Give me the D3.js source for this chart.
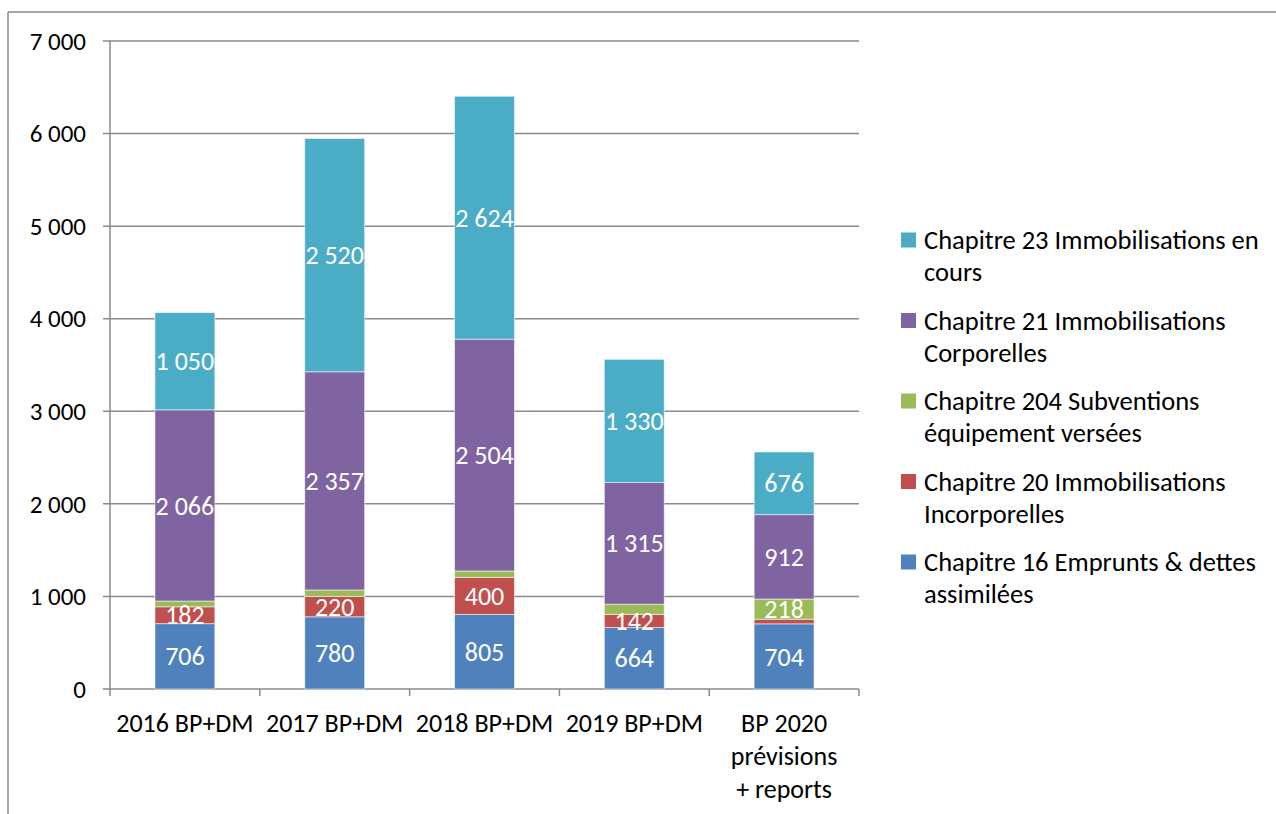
<!DOCTYPE html>
<html>
<head>
<meta charset="utf-8">
<script src="https://cdn.jsdelivr.net/npm/d3@7"></script>
<style>
  html, body { margin: 0; padding: 0; background: #fff; }
  svg { display: block; font-family: Carlito, Calibri, Lato, "Open Sans", sans-serif; }
</style>
</head>
<body>
<svg id="chart" width="1276" height="814"></svg>
<script>
// Budget categories (x axis), each label split into lines
const categories = ["2016 BP+DM", "2017 BP+DM", "2018 BP+DM", "2019 BP+DM", "BP 2020 prévisions + reports"];
const categoryLines = [["2016 BP+DM"], ["2017 BP+DM"], ["2018 BP+DM"], ["2019 BP+DM"], ["BP 2020", "prévisions", "+ reports"]];

// Series, stacked bottom to top
const seriesNames = [
  "Chapitre 16 Emprunts & dettes assimilées",
  "Chapitre 20 Immobilisations Incorporelles",
  "Chapitre 204 Subventions équipement versées",
  "Chapitre 21 Immobilisations Corporelles",
  "Chapitre 23 Immobilisations en cours"
];
const legendLines = [
  ["Chapitre 16 Emprunts & dettes", "assimilées"],
  ["Chapitre 20 Immobilisations", "Incorporelles"],
  ["Chapitre 204 Subventions", "équipement versées"],
  ["Chapitre 21 Immobilisations", "Corporelles"],
  ["Chapitre 23 Immobilisations en", "cours"]
];
const seriesColors = ["#4F81BD", "#C0504D", "#9BBB59", "#8064A2", "#4BACC6"];

const chap16  = [706, 780, 805, 664, 704];
const chap20  = [182, 220, 400, 142, 50];
const chap204 = [62, 70, 70, 110, 218];
const chap21  = [2066, 2357, 2504, 1315, 912];
const chap23  = [1050, 2520, 2624, 1330, 676];
const seriesValues = [chap16, chap20, chap204, chap21, chap23];

// Which segments carry a value label
const showLabel = [
  [true, true, true, true, true],
  [true, true, true, true, false],
  [false, false, false, false, true],
  [true, true, true, true, true],
  [true, true, true, true, true]
];

const yTicks = [0, 1000, 2000, 3000, 4000, 5000, 6000, 7000];

const fr = d3.formatLocale({ decimal: ",", thousands: " ", grouping: [3], currency: ["", " €"] });
const fmt = fr.format(",d");

const svg = d3.select("#chart");
const gridColor = "#8a8a8a";

// Outer frame
svg.append("line").attr("x1", 8).attr("x2", 1276).attr("y1", 12).attr("y2", 12)
  .attr("stroke", gridColor).attr("stroke-width", 1.5);
svg.append("line").attr("x1", 8).attr("x2", 8).attr("y1", 12).attr("y2", 814)
  .attr("stroke", gridColor).attr("stroke-width", 1.5);

const plot = { left: 110, right: 859, top: 41, bottom: 689 };

const x = d3.scaleBand().domain(categories).range([plot.left, plot.right]).paddingInner(0).paddingOuter(0);
const y = d3.scaleLinear().domain([0, 7000]).range([plot.bottom, plot.top]);

// Horizontal gridlines with left tick stubs
svg.append("g").selectAll("line").data(yTicks).join("line")
  .attr("x1", plot.left - 7).attr("x2", plot.right)
  .attr("y1", d => y(d)).attr("y2", d => y(d))
  .attr("stroke", gridColor).attr("stroke-width", 1.5);

// Y tick labels
svg.append("g").selectAll("text").data(yTicks).join("text")
  .attr("x", 86).attr("y", d => y(d)).attr("dy", "0.35em")
  .attr("text-anchor", "end").attr("font-size", 25).attr("fill", "#000")
  .text(d => fmt(d));

// Vertical axis line
svg.append("line").attr("x1", plot.left).attr("x2", plot.left)
  .attr("y1", plot.top).attr("y2", plot.bottom)
  .attr("stroke", gridColor).attr("stroke-width", 1.5);

// Category separator ticks on the x axis
const sepX = categories.map(c => x(c)).concat([x(categories[categories.length - 1]) + x.bandwidth()]);
svg.append("g").selectAll("line").data(sepX).join("line")
  .attr("x1", d => d).attr("x2", d => d)
  .attr("y1", plot.bottom).attr("y2", plot.bottom + 7)
  .attr("stroke", gridColor).attr("stroke-width", 1.5);

// Stacked bars
const table = categories.map((c, i) => {
  const row = { category: c };
  seriesNames.forEach((s, k) => row[s] = seriesValues[k][i]);
  return row;
});
const stacked = d3.stack().keys(seriesNames)(table);

const barW = x.bandwidth() * 0.4;
const layers = svg.append("g").selectAll("g").data(stacked).join("g")
  .attr("fill", (d, k) => seriesColors[k]);

layers.selectAll("rect").data(d => d).join("rect")
  .attr("x", d => x(d.data.category) + (x.bandwidth() - barW) / 2)
  .attr("width", barW)
  .attr("y", d => y(d[1]))
  .attr("height", d => y(d[0]) - y(d[1]))
  .attr("stroke", "rgba(255,255,255,0.55)")
  .attr("stroke-width", 1);

// Value labels centered in segments
stacked.forEach((layer, k) => {
  svg.append("g").selectAll("text")
    .data(layer.map((d, i) => ({ d, i })).filter(o => showLabel[k][o.i]))
    .join("text")
    .attr("x", o => x(o.d.data.category) + x.bandwidth() / 2)
    .attr("y", o => (y(o.d[0]) + y(o.d[1])) / 2)
    .attr("dy", "0.35em")
    .attr("text-anchor", "middle")
    .attr("font-size", 26)
    .attr("fill", "#fff")
    .text(o => fmt(seriesValues[k][o.i]));
});

// Category labels
const catG = svg.append("g").selectAll("text").data(categories).join("text")
  .attr("x", c => x(c) + x.bandwidth() / 2)
  .attr("y", 723)
  .attr("text-anchor", "middle")
  .attr("font-size", 26)
  .attr("fill", "#000");
catG.each(function (c, i) {
  d3.select(this).selectAll("tspan").data(categoryLines[i]).join("tspan")
    .attr("x", x(c) + x.bandwidth() / 2)
    .attr("dy", (l, j) => j === 0 ? "0.35em" : 33)
    .text(l => l);
});

// Legend, top entry is the top series
const legendOrder = [4, 3, 2, 1, 0];
const legend = svg.append("g").selectAll("g").data(legendOrder).join("g")
  .attr("transform", (k, j) => `translate(901, ${240 + j * 80.5})`);
legend.append("rect")
  .attr("x", 0).attr("y", -7.5).attr("width", 15).attr("height", 15)
  .attr("fill", k => seriesColors[k]);
legend.append("text")
  .attr("x", 23).attr("y", 0)
  .attr("font-size", 26.5).attr("fill", "#000")
  .each(function (k) {
    d3.select(this).selectAll("tspan").data(legendLines[k]).join("tspan")
      .attr("x", 23)
      .attr("dy", (l, j) => j === 0 ? "0.35em" : 32)
      .text(l => l);
  });
</script>
</body>
</html>
